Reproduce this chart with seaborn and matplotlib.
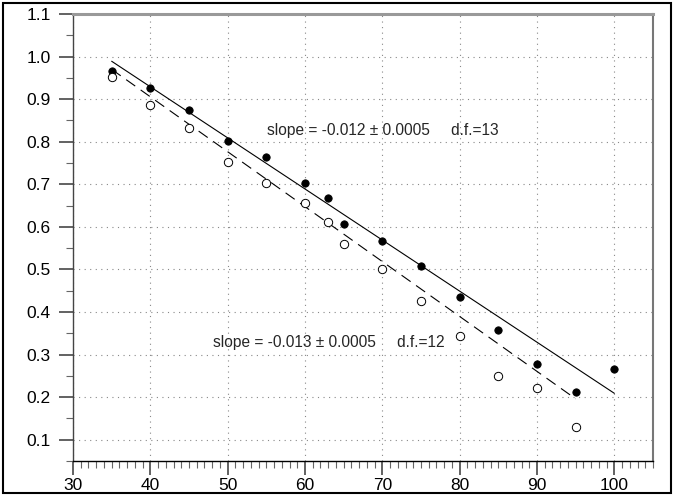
import numpy as np
import pandas as pd
import matplotlib
matplotlib.use("Agg")
import matplotlib.pyplot as plt
from matplotlib.patches import Rectangle
from matplotlib.ticker import MultipleLocator
import seaborn as sns

# ---- data ----
x_filled = [35, 40, 45, 50, 55, 60, 63, 65, 70, 75, 80, 85, 90, 95, 100]
y_filled = [0.965, 0.927, 0.875, 0.801, 0.765, 0.702, 0.667, 0.606, 0.566,
            0.508, 0.435, 0.357, 0.278, 0.211, 0.266]
x_open = [35, 40, 45, 50, 55, 60, 63, 65, 70, 75, 80, 85, 90, 95]
y_open = [0.951, 0.887, 0.833, 0.753, 0.702, 0.656, 0.612, 0.560, 0.501,
          0.427, 0.343, 0.250, 0.221, 0.130]
# fitted lines (as drawn in the reference): slope, intercept
fit_filled_slope = -0.0120
fit_filled_intercept = 1.409
fit_open_slope = -0.0129
fit_open_intercept = 1.4215
label_filled = "slope = -0.012 \u00b1 0.0005     d.f.=13"
label_open = "slope = -0.013 \u00b1 0.0005     d.f.=12"
x_ticks = [30, 40, 50, 60, 70, 80, 90, 100]
y_ticks = [0.1, 0.2, 0.3, 0.4, 0.5, 0.6, 0.7, 0.8, 0.9, 1.0, 1.1]

df_f = pd.DataFrame({"x": x_filled, "y": y_filled})
df_o = pd.DataFrame({"x": x_open, "y": y_open})

xf = np.array([min(x_filled), max(x_filled)], dtype=float)
xo = np.array([min(x_open), max(x_open)], dtype=float)
line_f = pd.DataFrame({"x": xf, "y": fit_filled_intercept + fit_filled_slope * xf})
line_o = pd.DataFrame({"x": xo, "y": fit_open_intercept + fit_open_slope * xo})

sns.set_style("white")
plt.rcParams["font.family"] = ["Liberation Sans", "DejaVu Sans"]

fig = plt.figure(figsize=(6.74, 4.97), dpi=100)
ax = fig.add_axes([73/674, 1-461/497, (653-73)/674, (461-14)/497])

sns.lineplot(data=line_f, x="x", y="y", ax=ax, color="black", lw=0.8)
sns.lineplot(data=line_o, x="x", y="y", ax=ax, color="black", lw=0.8,
             dashes=False, linestyle=(0, (10, 6)))

sns.scatterplot(data=df_f, x="x", y="y", ax=ax, color="black", s=28,
                edgecolor="black", linewidth=0.6, zorder=5)
sns.scatterplot(data=df_o, x="x", y="y", ax=ax, facecolor="white", s=36,
                edgecolor="black", linewidth=0.7, zorder=5)

ax.text(55.1, 0.826, label_filled, fontsize=11.2, va="center", ha="left")
ax.text(48.1, 0.329, label_open, fontsize=11.2, va="center", ha="left")

ax.set_xlim(30, 105)
ax.set_ylim(0.05, 1.1)
ax.set_xticks(x_ticks)
ax.set_yticks(y_ticks)
ax.set_xticklabels([str(v) for v in x_ticks])
ax.set_yticklabels([f"{v:.1f}" for v in y_ticks])
ax.xaxis.set_minor_locator(MultipleLocator(1))
ax.yaxis.set_minor_locator(MultipleLocator(0.05))
ax.set_xlabel("")
ax.set_ylabel("")

ax.tick_params(axis="both", which="major", direction="out", labelsize=12.5,
               colors="#555555", labelcolor="black", width=1.3)
ax.tick_params(axis="x", which="major", length=10, pad=2)
ax.tick_params(axis="y", which="major", length=10, pad=6)
ax.tick_params(axis="both", which="minor", direction="out", length=5,
               colors="#666666", width=0.8)
ax.tick_params(axis="both", which="both", bottom=True, left=True,
               top=False, right=False)

ax.grid(True, which="major", linestyle=(0, (1, 4)), color="#888888", lw=0.8)
ax.set_axisbelow(True)

ax.spines["top"].set_color("#999999")
ax.spines["top"].set_linewidth(2.2)
ax.spines["right"].set_color("#777777")
ax.spines["right"].set_linewidth(1.5)
ax.spines["left"].set_color("#444444")
ax.spines["left"].set_linewidth(1.0)
ax.spines["bottom"].set_color("black")
ax.spines["bottom"].set_linewidth(1.0)

fig.patches.append(Rectangle((3/674, 4/497), 668/674, 490/497,
                             transform=fig.transFigure, fill=False,
                             edgecolor="black", lw=1.5))

fig.savefig("out.png", dpi=100)
